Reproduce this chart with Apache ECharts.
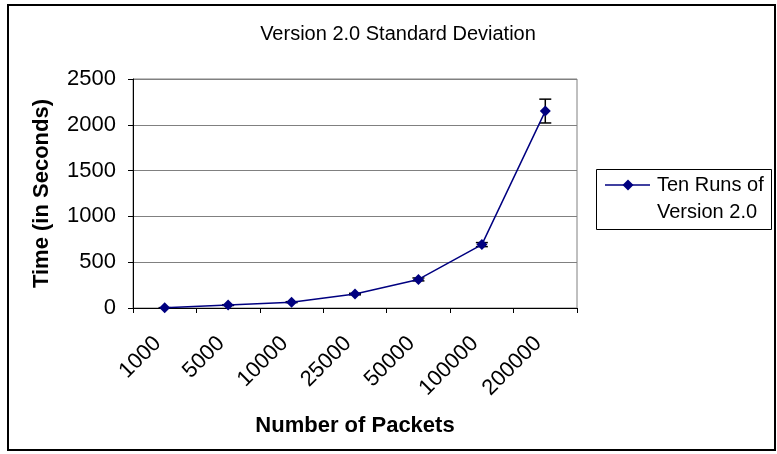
<!DOCTYPE html>
<html>
<head>
<meta charset="utf-8">
<script src="https://cdn.jsdelivr.net/npm/echarts@6/dist/echarts.min.js"></script>
<style>
html,body{margin:0;padding:0;background:#fff;}
#c{width:777px;height:454px;}
</style>
</head>
<body>
<div id="c"></div>
<script>
var categories = ['1000', '5000', '10000', '25000', '50000', '100000', '200000'];
var meanTimes = [2, 32, 64, 152, 312, 692, 2150];
var stdDevs = [2, 4, 5, 8, 16, 22, 130];
var yTicks = [0, 500, 1000, 1500, 2000, 2500];
var legendLines = ['Ten Runs of', 'Version 2.0'];

var chart = echarts.init(document.getElementById('c'), null, {renderer: 'canvas'});
var font = 'Liberation Sans, Arial, sans-serif';

var errData = meanTimes.map(function (v, i) { return [i, v - stdDevs[i], v + stdDevs[i]]; });

chart.setOption({
  backgroundColor: '#fff',
  animation: false,
  title: {
    text: 'Version 2.0 Standard Deviation',
    left: 393, top: 19, textAlign: 'center',
    textStyle: {fontFamily: font, fontSize: 20, fontWeight: 'normal', color: '#000'}
  },
  graphic: [{
    type: 'rect', silent: true, z: 100,
    shape: {x: 8, y: 5, width: 767, height: 445},
    style: {fill: 'none', stroke: '#000', lineWidth: 2}
  }, {
    type: 'group', silent: true, z: 100,
    children: [
      {type: 'rect', shape: {x: 596.5, y: 169.5, width: 175, height: 60},
        style: {fill: '#fff', stroke: '#000', lineWidth: 1}},
      {type: 'line', shape: {x1: 605, y1: 185, x2: 650, y2: 185},
        style: {stroke: '#000080', lineWidth: 1.5}},
      {type: 'polygon', shape: {points: [[628, 179.5], [633.5, 185], [628, 190.5], [622.5, 185]]},
        style: {fill: '#000080'}},
      {type: 'text', x: 657, y: 185,
        style: {text: legendLines[0], font: '20px ' + font, fill: '#000', verticalAlign: 'middle'}},
      {type: 'text', x: 657, y: 212,
        style: {text: legendLines[1], font: '20px ' + font, fill: '#000', verticalAlign: 'middle'}}
    ]
  }],
  grid: {left: 133, right: 200, top: 79, bottom: 146, show: true, borderColor: '#808080', borderWidth: 1},
  xAxis: {
    type: 'category', data: categories, boundaryGap: true,
    name: 'Number of Packets', nameLocation: 'middle', nameGap: 107,
    nameTextStyle: {fontFamily: font, fontSize: 22, fontWeight: 'bold', color: '#000'},
    axisLine: {lineStyle: {color: '#000', width: 1}},
    axisTick: {show: true, length: 5, lineStyle: {color: '#000'}},
    axisLabel: {rotate: 45, fontFamily: font, fontSize: 22, color: '#000', margin: 25, padding: [0, 10, 0, 0]}
  },
  yAxis: {
    type: 'value', min: 0, max: 2500, interval: 500,
    name: 'Time (in Seconds)', nameLocation: 'middle', nameGap: 80,
    nameTextStyle: {fontFamily: font, fontSize: 22, fontWeight: 'bold', color: '#000'},
    axisLine: {show: true, lineStyle: {color: '#000', width: 1}},
    axisTick: {show: true, length: 5, lineStyle: {color: '#000'}},
    axisLabel: {fontFamily: font, fontSize: 22, color: '#000', margin: 17,
      formatter: function (v) { return yTicks.indexOf(v) >= 0 ? String(v) : ''; }},
    splitLine: {show: true, lineStyle: {color: '#808080', width: 1}}
  },
  series: [{
    name: 'Ten Runs of Version 2.0',
    type: 'line',
    data: meanTimes,
    symbol: 'diamond', symbolSize: 11,
    itemStyle: {color: '#000080'},
    lineStyle: {color: '#000080', width: 1.5},
    z: 3
  }, {
    type: 'custom',
    data: errData,
    z: 2,
    renderItem: function (params, api) {
      var lo = api.coord([api.value(0), api.value(1)]);
      var hi = api.coord([api.value(0), api.value(2)]);
      var w = 6;
      var st = {stroke: '#000', lineWidth: 1.5, fill: 'none'};
      return {type: 'group', children: [
        {type: 'line', shape: {x1: hi[0], y1: hi[1], x2: lo[0], y2: lo[1]}, style: st},
        {type: 'line', shape: {x1: hi[0] - w, y1: hi[1], x2: hi[0] + w, y2: hi[1]}, style: st},
        {type: 'line', shape: {x1: lo[0] - w, y1: lo[1], x2: lo[0] + w, y2: lo[1]}, style: st}
      ]};
    }
  }]
});
</script>
</body>
</html>
